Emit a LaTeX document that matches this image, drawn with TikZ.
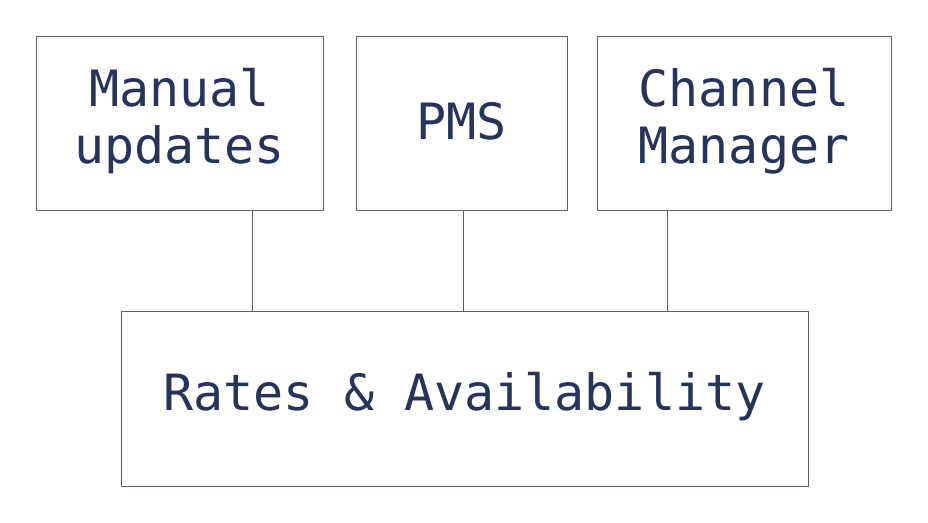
\documentclass[tikz,border=0pt]{standalone}
\usepackage{fontspec}
\setmonofont{DejaVu Sans Mono}
\definecolor{txt}{HTML}{26345A}
\definecolor{ln}{HTML}{5A6070}
\begin{document}
\begin{tikzpicture}[x=1pt,y=-1pt,
  box/.style={draw=ln,line width=0.9pt,inner sep=0pt},
  lbl/.style={text=txt,font=\ttfamily\fontsize{50}{57}\selectfont,align=center}]
\useasboundingbox (0,0) rectangle (928,522);
\fill[white] (0,0) rectangle (928,522);
\draw[box] (36,36) rectangle (323,210);
\node[lbl] (m) at (179.5,121) {Manual\\updates};
\draw[box] (356,36) rectangle (567,210);
\node[lbl] (p) at (461.5,121) {PMS};
\draw[box] (597,36) rectangle (891,210);
\node[lbl] (c) at (744,121) {Channel\\Manager};
\draw[box] (121,311) rectangle (808,486);
\node[lbl] (r) at (464.5,397) {Rates \& Availability};
\coordinate (a1) at (252,210); \coordinate (b1) at (252,311);
\coordinate (a2) at (463,210); \coordinate (b2) at (463,311);
\coordinate (a3) at (667,210); \coordinate (b3) at (667,311);
\draw[ln,line width=0.9pt] (a1)--(b1) (a2)--(b2) (a3)--(b3);
\end{tikzpicture}
\end{document}
